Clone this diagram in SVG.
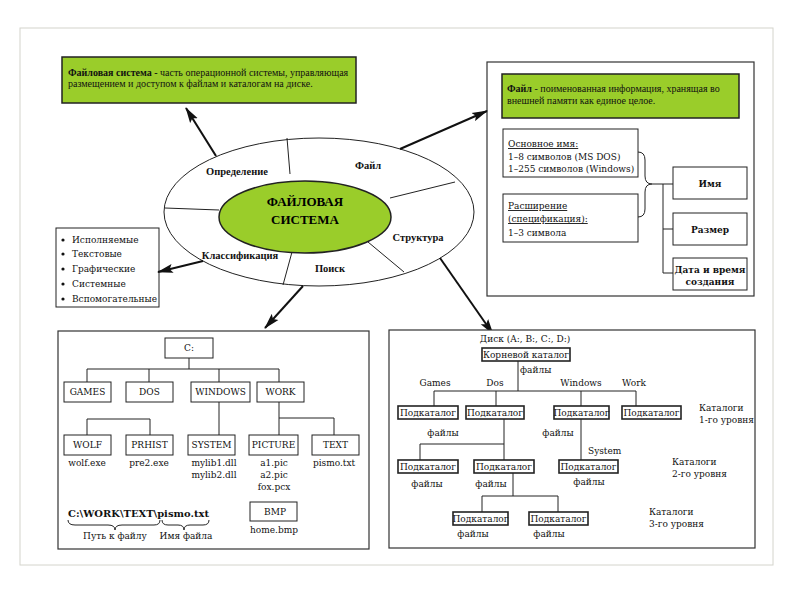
<svg xmlns="http://www.w3.org/2000/svg" width="800" height="600" viewBox="0 0 800 600">
<defs>
<marker id="ah" markerUnits="userSpaceOnUse" markerWidth="16" markerHeight="10" refX="15" refY="5" orient="auto">
<path d="M0,0.5 L16,5 L0,9.5 L3,5 z" fill="#111"/>
</marker>
<style>
.tn{font-family:"Liberation Serif","Times New Roman",serif;font-size:10px;fill:#111}
.tb{font-family:"Liberation Serif","Times New Roman",serif;font-size:10.5px;font-weight:bold;fill:#111}
.dv{font-family:"DejaVu Serif",serif;font-size:9px;fill:#111}
.dvb{font-family:"DejaVu Serif",serif;font-size:9px;font-weight:bold;fill:#111}
.box{fill:#fff;stroke:#222;stroke-width:1}
.sub{fill:#fff;stroke:#222;stroke-width:1.6}
.frame{fill:#fff;stroke:#333;stroke-width:1.2}
.green{fill:#9acd2a;stroke:#222;stroke-width:1.5}
.ln{stroke:#222;stroke-width:1;fill:none}
.arr{stroke:#111;stroke-width:2;fill:none;marker-end:url(#ah)}
.c{text-anchor:middle}
</style>
</defs>
<rect x="0" y="0" width="800" height="600" fill="#fff"/>
<rect x="20" y="28" width="753" height="537" fill="#fff" stroke="#d4d4cc" stroke-width="1"/>

<g id="definition">
<rect x="62" y="57" width="294" height="46" class="green"/>
<text x="68" y="76" class="tn"><tspan font-weight="bold">Файловая система -</tspan> часть операционной системы, управляющая</text>
<text x="68" y="87" class="tn">размещением и доступом к файлам и каталогам на диске.</text>
</g>

<g id="file-panel">
<rect x="487" y="62" width="267" height="234" class="frame"/>
<rect x="502" y="74" width="237" height="44" class="green"/>
<text x="507" y="92" class="tn"><tspan font-weight="bold">Файл</tspan> - поименованная информация, хранящая во</text>
<text x="507" y="104" class="tn">внешней памяти как единое целое.</text>
<g id="basename">
<rect x="503" y="129" width="135" height="48" class="box"/>
<text x="508" y="147" class="dv" text-decoration="underline">Основное имя:</text>
<text x="508" y="160" class="dv">1–8 символов (MS DOS)</text>
<text x="508" y="172" class="dv">1–255 символов (Windows)</text>
</g>
<g id="extension">
<rect x="503" y="194" width="135" height="48" class="box"/>
<text x="508" y="209" class="dv" text-decoration="underline">Расширение</text>
<text x="508" y="222" class="dv" text-decoration="underline">(спецификация):</text>
<text x="508" y="236" class="dv">1–3 символа</text>
</g>
<g id="name"><rect x="673" y="167" width="74" height="32" class="box"/><text x="710" y="187" class="dvb c">Имя</text></g>
<g id="size"><rect x="673" y="213" width="74" height="32" class="box"/><text x="710" y="233" class="dvb c">Размер</text></g>
<g id="datetime"><rect x="673" y="258" width="74" height="32" class="box"/><text x="710" y="273" class="dvb c">Дата и время</text><text x="710" y="285" class="dvb c">создания</text></g>
</g>

<g id="list">
<rect x="56" y="228" width="103" height="79" class="box" stroke="#555"/>
<g class="dv">
<circle cx="63" cy="240" r="1.6" fill="#111"/><text x="72" y="243">Исполняемые</text>
<circle cx="63" cy="254" r="1.6" fill="#111"/><text x="72" y="257">Текстовые</text>
<circle cx="63" cy="269" r="1.6" fill="#111"/><text x="72" y="272">Графические</text>
<circle cx="63" cy="284" r="1.6" fill="#111"/><text x="72" y="287">Системные</text>
<circle cx="63" cy="299" r="1.6" fill="#111"/><text x="72" y="302">Вспомогательные</text>
</g>
</g>

<g id="filesystem">
<ellipse cx="319" cy="212" rx="155" ry="74" fill="#fff" stroke="#222" stroke-width="1"/>
<g class="ln">
<line x1="290" y1="174" x2="287" y2="138"/>
<line x1="390" y1="198" x2="455" y2="182"/>
<line x1="368" y1="242" x2="404" y2="272"/>
<line x1="292" y1="252" x2="283" y2="285"/>
<line x1="165" y1="208" x2="219" y2="210"/>
</g>
<ellipse cx="305" cy="217" rx="86" ry="36" class="green"/>
<text x="305" y="206" class="c" font-family="Liberation Serif,serif" font-size="13" font-weight="bold">ФАЙЛОВАЯ</text>
<text x="305" y="224" class="c" font-family="Liberation Serif,serif" font-size="13" font-weight="bold">СИСТЕМА</text>
<text x="237" y="175" class="tb c">Определение</text>
<text x="368" y="169" class="tb c">Файл</text>
<text x="418" y="241" class="tb c">Структура</text>
<text x="330" y="272" class="tb c">Поиск</text>
<text x="240" y="259" class="tb c">Классификация</text>
</g>

<g id="connectors">
<line x1="216" y1="156" x2="186" y2="108" class="arr"/>
<line x1="400" y1="149" x2="487" y2="111" class="arr"/>
<line x1="203" y1="261" x2="158" y2="272" class="arr"/>
<line x1="303" y1="286" x2="265" y2="328" class="arr"/>
<line x1="440" y1="258" x2="493" y2="334" class="arr"/>
<path d="M638,152 Q645,152 645,160 L645,176 Q645,184 652,184 Q645,184 645,192 L645,209 Q645,217 638,217" class="ln"/>
<path d="M652,184 H673 M663,184 V273 H673 M663,229 H673" class="ln"/>
</g>

<g id="tree-c">
<rect x="58" y="331" width="311" height="218" class="frame"/>
<g class="ln">
<path d="M189,358 V369 M87,369 H279 M87,369 V382 M149,369 V382 M219,369 V382 M279,369 V382"/>
<path d="M87,419 H150 M87,419 V435 M150,419 V435"/>
<path d="M219,402 V435 M279,402 V435 M279,418 H334 V435"/>
<path d="M263,502 V510"/>
</g>
<g id="c-root"><rect x="165" y="338" width="48" height="20" class="box"/><text x="189" y="351" class="dv c">C:</text></g>
<g id="games"><rect x="64" y="382" width="47" height="20" class="box"/><text x="87.5" y="395" class="dv c">GAMES</text></g>
<g id="dos"><rect x="126" y="382" width="47" height="20" class="box"/><text x="149.5" y="395" class="dv c">DOS</text></g>
<g id="windows"><rect x="191" y="382" width="59" height="20" class="box"/><text x="220.5" y="395" class="dv c">WINDOWS</text></g>
<g id="work"><rect x="257" y="382" width="47" height="20" class="box"/><text x="280.5" y="395" class="dv c">WORK</text></g>
<g id="wolf"><rect x="64" y="435" width="47" height="20" class="box"/><text x="87.5" y="448" class="dv c">WOLF</text><text x="87" y="466" class="dv c">wolf.exe</text></g>
<g id="prhist"><rect x="126" y="435" width="47" height="20" class="box"/><text x="149.5" y="448" class="dv c">PRHIST</text><text x="149" y="466" class="dv c">pre2.exe</text></g>
<g id="system"><rect x="188" y="435" width="47" height="20" class="box"/><text x="211.5" y="448" class="dv c">SYSTEM</text><text x="214" y="466" class="dv c">mylib1.dll</text><text x="214" y="478" class="dv c">mylib2.dll</text></g>
<g id="picture"><rect x="249" y="435" width="49" height="20" class="box"/><text x="273.5" y="448" class="dv c">PICTURE</text><text x="274" y="466" class="dv c">a1.pic</text><text x="274" y="478" class="dv c">a2.pic</text><text x="274" y="490" class="dv c">fox.pcx</text></g>
<g id="text"><rect x="312" y="435" width="47" height="20" class="box"/><text x="335.5" y="448" class="dv c">TEXT</text><text x="334" y="466" class="dv c">pismo.txt</text></g>
<g id="bmp"><rect x="250" y="502" width="47" height="19" class="box"/><text x="275" y="515" class="dv c">BMP</text><text x="274" y="533" class="dv c">home.bmp</text></g>
<g id="path">
<text x="68" y="517" font-family="DejaVu Serif,serif" font-size="10" font-weight="bold" fill="#111" textLength="141" lengthAdjust="spacingAndGlyphs">C:\WORK\TEXT\pismo.txt</text>
<path d="M68,520 Q68,525 75,525 L108,525 Q115,525 115,530 Q115,525 122,525 L154,525 Q160,525 160,520" class="ln"/>
<path d="M162,520 Q162,525 168,525 L178,525 Q184,525 184,530 Q184,525 190,525 L203,525 Q209,525 209,520" class="ln"/>
<text x="115" y="539" class="dv c">Путь к файлу</text>
<text x="186" y="539" class="dv c">Имя файла</text>
</g>
</g>

<g id="tree-disk">
<rect x="389" y="330" width="366" height="218" class="frame"/>
<text x="525" y="342" class="dv c">Диск (A:, B:, C:, D:)</text>
<g class="ln">
<path d="M518,361 V391 M434,391 H636 M434,391 V406 M496,391 V406 M581,391 V406 M636,391 V406"/>
<path d="M504,419 V460 M420,444 H504 M420,444 V460 M581,419 V460"/>
<path d="M513,473 V496 M482,496 H558 M482,496 V512 M558,496 V512"/>
</g>
<g id="root-dir"><rect x="482" y="348" width="88" height="13" class="sub"/><text x="526" y="358" class="dv c">Корневой каталог</text></g>
<text x="520" y="373" class="dv">файлы</text>
<text x="435" y="386" class="dv c">Games</text>
<text x="495" y="386" class="dv c">Dos</text>
<text x="581" y="386" class="dv c">Windows</text>
<text x="634" y="386" class="dv c">Work</text>
<g id="sub1a"><rect x="398" y="406" width="60" height="13" class="sub"/><text x="428" y="416" class="dv c">Подкаталог</text></g>
<g id="sub1b"><rect x="466" y="406" width="58" height="13" class="sub"/><text x="495" y="416" class="dv c">Подкаталог</text></g>
<g id="sub1c"><rect x="554" y="406" width="55" height="13" class="sub"/><text x="581.5" y="416" class="dv c">Подкаталог</text></g>
<g id="sub1d"><rect x="622" y="406" width="59" height="13" class="sub"/><text x="651.5" y="416" class="dv c">Подкаталог</text></g>
<text x="699" y="411" class="dv">Каталоги</text>
<text x="699" y="423" class="dv">1-го уровня</text>
<text x="443" y="436" class="dv c">файлы</text>
<text x="558" y="436" class="dv c">файлы</text>
<text x="588" y="454" class="dv">System</text>
<g id="sub2a"><rect x="398" y="460" width="60" height="13" class="sub"/><text x="428" y="470" class="dv c">Подкаталог</text></g>
<g id="sub2b"><rect x="474" y="460" width="60" height="13" class="sub"/><text x="504" y="470" class="dv c">Подкаталог</text></g>
<g id="sub2c"><rect x="559" y="460" width="59" height="13" class="sub"/><text x="588.5" y="470" class="dv c">Подкаталог</text></g>
<text x="427" y="487" class="dv c">файлы</text>
<text x="491" y="487" class="dv c">файлы</text>
<text x="589" y="485" class="dv c">файлы</text>
<text x="672" y="465" class="dv">Каталоги</text>
<text x="672" y="477" class="dv">2-го уровня</text>
<g id="sub3a"><rect x="453" y="512" width="55" height="13" class="sub"/><text x="480.5" y="522" class="dv c">Подкаталог</text></g>
<g id="sub3b"><rect x="529" y="512" width="59" height="13" class="sub"/><text x="558.5" y="522" class="dv c">Подкаталог</text></g>
<text x="473" y="537" class="dv c">файлы</text>
<text x="549" y="537" class="dv c">файлы</text>
<text x="649" y="515" class="dv">Каталоги</text>
<text x="649" y="527" class="dv">3-го уровня</text>
</g>
</svg>
